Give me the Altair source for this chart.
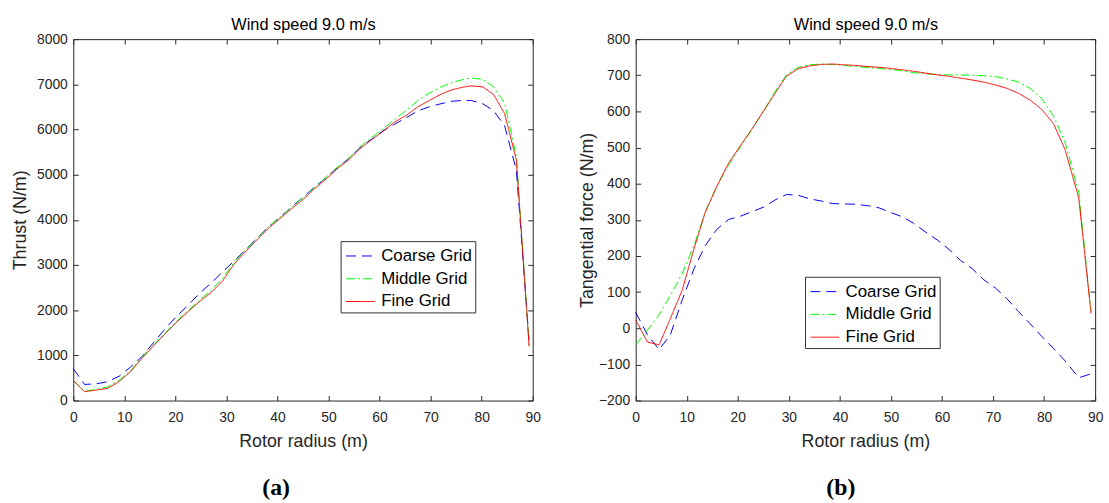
import altair as alt
import pandas as pd

# ---------------- data ----------------
series_names = ["Coarse Grid", "Middle Grid", "Fine Grid"]
series_colors = ["#0000ff", "#00ff00", "#ff0000"]
series_dashes = [[10, 6], [9, 3, 2, 3], [1, 0]]

x_ticks = [0, 10, 20, 30, 40, 50, 60, 70, 80, 90]
thrust_ticks = [0, 1000, 2000, 3000, 4000, 5000, 6000, 7000, 8000]
tang_ticks = [-200, -100, 0, 100, 200, 300, 400, 500, 600, 700, 800]

# (a) thrust vs rotor radius
r_a = [0, 2.2, 4.5, 6.7, 9.0, 11.2, 13.5, 15.7, 18.0, 20.2, 22.5, 24.7, 27.0, 29.2,
       31.5, 33.7, 36.0, 38.2, 40.5, 42.7, 45.0, 47.2, 49.5, 51.7, 54.0, 56.2, 58.5,
       60.7, 63.0, 65.2, 67.5, 69.7, 72.0, 74.2, 76.5, 78.0, 80.2, 82.3, 84.5, 86.8, 89.3]
thrust_coarse = [707, 357, 370, 416, 540, 740, 977, 1280, 1590, 1860, 2110, 2370, 2600, 2840,
                 3090, 3330, 3600, 3840, 4060, 4280, 4500, 4720, 4930, 5150, 5360, 5600, 5790,
                 5970, 6120, 6260, 6411, 6500, 6570, 6625, 6645, 6640, 6570, 6420, 6080, 5100, 1300]
thrust_middle = [444, 205, 250, 300, 450, 660, 960, 1230, 1500, 1750, 1990, 2220, 2440, 2700,
                 3060, 3320, 3590, 3840, 4060, 4270, 4490, 4710, 4940, 5160, 5370, 5620, 5830,
                 6010, 6230, 6420, 6640, 6800, 6940, 7040, 7110, 7140, 7110, 6950, 6580, 5400, 1230]
thrust_fine = [444, 197, 230, 270, 420, 640, 940, 1210, 1480, 1730, 1970, 2190, 2390, 2640,
               3020, 3290, 3560, 3810, 4030, 4240, 4450, 4680, 4900, 5130, 5330, 5580, 5780,
               5960, 6170, 6310, 6500, 6640, 6780, 6880, 6940, 6966, 6943, 6780, 6350, 5320, 1200]

# (b) tangential force vs rotor radius
r_b = [0, 2.3, 4.6, 6.8, 9.1, 11.4, 13.6, 15.9, 18.2, 20.5, 22.7, 25.0, 27.3, 29.5,
       31.8, 34.1, 36.4, 38.6, 40.9, 43.2, 45.5, 47.7, 50.0, 52.3, 54.5, 56.8, 59.1,
       61.4, 63.6, 65.9, 68.2, 70.5, 72.7, 75.0, 77.3, 79.5, 81.8, 84.1, 86.8, 89.2]
tang_coarse = [44, -18, -59, -18, 78, 164, 228, 274, 301, 310, 322, 335, 355, 370,
               368, 358, 352, 345, 344, 343, 339, 333, 320, 308, 290, 266, 244,
               218, 188, 165, 134, 111, 82, 46, 12, -22, -55, -90, -137, -126]
tang_middle = [-46, -5, 37, 91, 151, 228, 320, 393, 452, 502, 548, 600, 655, 700,
               722, 729, 731, 730, 727, 724, 721, 719, 716, 712, 707, 704, 702,
               701, 701, 700, 699, 696, 690, 681, 663, 636, 588, 515, 375, 46]
tang_fine = [23, -38, -46, 27, 105, 219, 320, 393, 457, 505, 550, 600, 650, 697,
             718, 726, 730, 731, 729, 727, 724, 722, 719, 715, 711, 706, 701,
             697, 692, 687, 681, 673, 664, 650, 631, 606, 567, 495, 360, 41]


def long_df(r, cols):
    rows = []
    for name, vals in zip(series_names, cols):
        for i, (rr, v) in enumerate(zip(r, vals)):
            rows.append({"r": rr, "v": v, "series": name, "i": i})
    return pd.DataFrame(rows)


df_a = long_df(r_a, [thrust_coarse, thrust_middle, thrust_fine])
df_b = long_df(r_b, [tang_coarse, tang_middle, tang_fine])

W, H = 464, 365
FRAME = "#262626"
FONT = "Liberation Sans"


def panel(df, ytitle, ydomain, yticks, ytitle_pad, leg_x, leg_y, letter):
    xs = alt.Scale(domain=[0, 90], nice=False, zero=False)
    ys = alt.Scale(domain=ydomain, nice=False, zero=False)
    base = alt.Chart(df)
    legend = alt.Legend(
        title=None, orient="none", legendX=leg_x, legendY=leg_y,
        strokeColor="#333333", fillColor="white", padding=3,
        symbolType="M-1,0H1.52", symbolSize=529, symbolStrokeWidth=1,
        symbolOffset=2,
        labelFont=FONT, labelFontSize=17, labelColor="#000000", labelOffset=12,
        rowPadding=3, labelLimit=300,
    )
    lines = base.mark_line(strokeWidth=1).encode(
        x=alt.X("r:Q", scale=xs, axis=alt.Axis(
            orient="bottom", values=x_ticks, title="Rotor radius (m)", tickSize=0,
            domain=False, grid=False, labelPadding=10, labelFlush=False,
            labelOverlap=False, titlePadding=8, format="d")),
        y=alt.Y("v:Q", scale=ys, axis=alt.Axis(
            orient="left", values=yticks, title=ytitle, tickSize=0, domain=False,
            grid=False, labelPadding=6, labelFlush=False, labelOverlap=False,
            titlePadding=ytitle_pad, format="d")),
        color=alt.Color("series:N", scale=alt.Scale(domain=series_names, range=series_colors),
                        legend=legend),
        strokeDash=alt.StrokeDash("series:N",
                                  scale=alt.Scale(domain=series_names, range=series_dashes),
                                  legend=legend),
        order="i:Q",
    )
    # inward ticks on bottom and left
    t1 = base.mark_line(opacity=0).encode(
        x=alt.X("r:Q", scale=xs, axis=alt.Axis(
            orient="top", offset=-H, values=x_ticks, labels=False, tickSize=5,
            domain=False, grid=False, title=None, tickColor=FRAME)),
        y=alt.Y("v:Q", scale=ys, axis=alt.Axis(
            orient="right", offset=-W, values=yticks, labels=False, tickSize=5,
            domain=False, grid=False, title=None, tickColor=FRAME)),
        detail="series:N",
    )
    # inward ticks on top and right
    t2 = base.mark_line(opacity=0).encode(
        x=alt.X("r:Q", scale=xs, axis=alt.Axis(
            orient="bottom", offset=-H, values=x_ticks, labels=False, tickSize=5,
            domain=False, grid=False, title=None, tickColor=FRAME)),
        y=alt.Y("v:Q", scale=ys, axis=alt.Axis(
            orient="left", offset=-W, values=yticks, labels=False, tickSize=5,
            domain=False, grid=False, title=None, tickColor=FRAME)),
        detail="series:N",
    )
    # panel heading as a top-axis title
    t3 = base.mark_line(opacity=0).encode(
        x=alt.X("r:Q", scale=xs, axis=alt.Axis(
            orient="top", labels=False, ticks=False, domain=False, grid=False,
            title="Wind speed 9.0 m/s", titlePadding=7, titleFontSize=16.5,
            titleFontWeight="normal", titleColor="#000000")),
        y=alt.Y("v:Q", scale=ys, axis=None),
        detail="series:N",
    )
    return alt.layer(lines, t1, t2, t3).resolve_scale(
        x="shared", y="shared"
    ).resolve_axis(x="independent", y="independent").properties(
        width=W, height=H,
        title=alt.TitleParams(letter, orient="bottom", anchor="middle", frame="bounds",
                              font="Liberation Serif", fontSize=24, fontWeight="bold",
                              color="#000000", offset=26),
    )


pa = panel(df_a, "Thrust (N/m)", [0, 8000], thrust_ticks, 7, 270, 204, "(a)")
pb = panel(df_b, "Tangential force (N/m)", [-200, 800], tang_ticks, 2, 171, 240, "(b)")

chart = alt.hconcat(pa, pb, spacing=36).resolve_scale(
    color="independent", strokeDash="independent"
).resolve_legend(
    color="independent", strokeDash="independent"
).properties(
    padding={"left": 11, "top": 13, "right": 5, "bottom": 5},
    background="white",
).configure_view(
    stroke=FRAME, strokeWidth=1
).configure_axis(
    labelFont=FONT, labelFontSize=14, labelColor=FRAME,
    titleFont=FONT, titleFontSize=18, titleColor=FRAME, titleFontWeight="normal",
).configure_legend(
    labelFont=FONT
)

chart.save("out.html", embed_options={"renderer": "svg", "actions": False})
